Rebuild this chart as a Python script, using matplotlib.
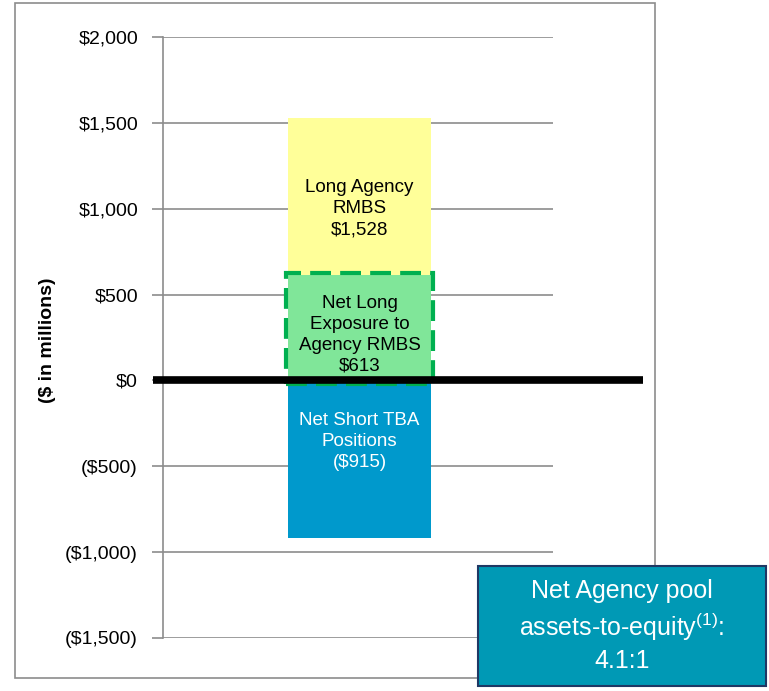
import matplotlib.pyplot as plt
from matplotlib.patches import Rectangle

plt.rcParams['font.family'] = ['Liberation Sans', 'DejaVu Sans']
plt.rcParams['mathtext.fontset'] = 'custom'
plt.rcParams['mathtext.rm'] = 'Liberation Sans'

# values in $ millions
long_rmbs = 1528
net_long = 613
net_short_tba = -915
yticks = [-1500, -1000, -500, 0, 500, 1000, 1500, 2000]
ytick_labels = ['($1,500)', '($1,000)', '($500)', '$0', '$500', '$1,000', '$1,500', '$2,000']

fig = plt.figure(figsize=(7.69, 6.91), dpi=100)
ax = fig.add_axes([163/769, 1 - 638/691, 390/769, 601/691])

xc, w = 0.504, 0.367
ax.bar(xc, long_rmbs, width=w, color='#FFFF99', zorder=2)
ax.bar(xc, net_long, width=w, color='#80E699', zorder=3)
ax.bar(xc, net_short_tba, width=w, color='#0099CC', zorder=2)

# dashed outline around net long exposure (bottom edge peeks under the zero line)
ax.add_patch(Rectangle((xc - w/2 - 0.006, -18), w + 0.012, net_long + 33, fill=False,
                       edgecolor='#00B050', lw=3, ls=(0, (5, 2.2)), zorder=4, clip_on=False))

# zero line extends beyond plot
ax.plot([-0.026, 1.231], [0, 0], color='black', lw=5.5, zorder=5,
        transform=ax.get_yaxis_transform(), clip_on=False, solid_capstyle='butt')

ax.text(xc, 1000, 'Long Agency\nRMBS\n$1,528', ha='center', va='center', fontsize=13.5,
        color='black', linespacing=1.3, zorder=6)
ax.text(xc, 265, 'Net Long\nExposure to\nAgency RMBS\n$613', ha='center', va='center',
        fontsize=13.5, color='black', linespacing=1.3, zorder=4.5)
ax.text(xc, -357, 'Net Short TBA\nPositions\n($915)', ha='center', va='center',
        fontsize=13.5, color='white', linespacing=1.3, zorder=6)

ax.set_xlim(0, 1)
ax.set_ylim(-1500, 2000)
ax.set_yticks(yticks)
ax.set_yticklabels(ytick_labels, fontsize=14)
ax.set_xticks([])
ax.yaxis.grid(True, color='#8C8C8C', lw=1.2, zorder=0)
ax.set_axisbelow(True)
for s in ['top', 'right', 'bottom']:
    ax.spines[s].set_visible(False)
ax.spines['left'].set_color('#8C8C8C')
ax.spines['left'].set_linewidth(1.2)
ax.tick_params(axis='y', direction='out', length=8, width=1.2, color='#8C8C8C', pad=10)

fig.text(47/769, 1 - 340/691, '($ in millions)', rotation=90, ha='center', va='center',
         fontsize=14, fontweight='bold')

# outer frame
fig.patches.append(Rectangle((15/769, 1 - 678/691), 640/769, 675/691, fill=False,
                             edgecolor='#8C8C8C', lw=1.2, transform=fig.transFigure, figure=fig))

# callout box
fig.patches.append(Rectangle((478/769, 1 - 686/691), 288/769, 120/691, facecolor='#0099B5',
                             edgecolor='#1F3864', lw=1.5, transform=fig.transFigure,
                             figure=fig, zorder=10))
fig.text(622/769, 1 - 626/691, 'Net Agency pool\nassets-to-equity$^{(1)}$:\n4.1:1',
         ha='center', va='center', fontsize=18, color='white', linespacing=1.3, zorder=11)

fig.savefig('out.png', dpi=100)
